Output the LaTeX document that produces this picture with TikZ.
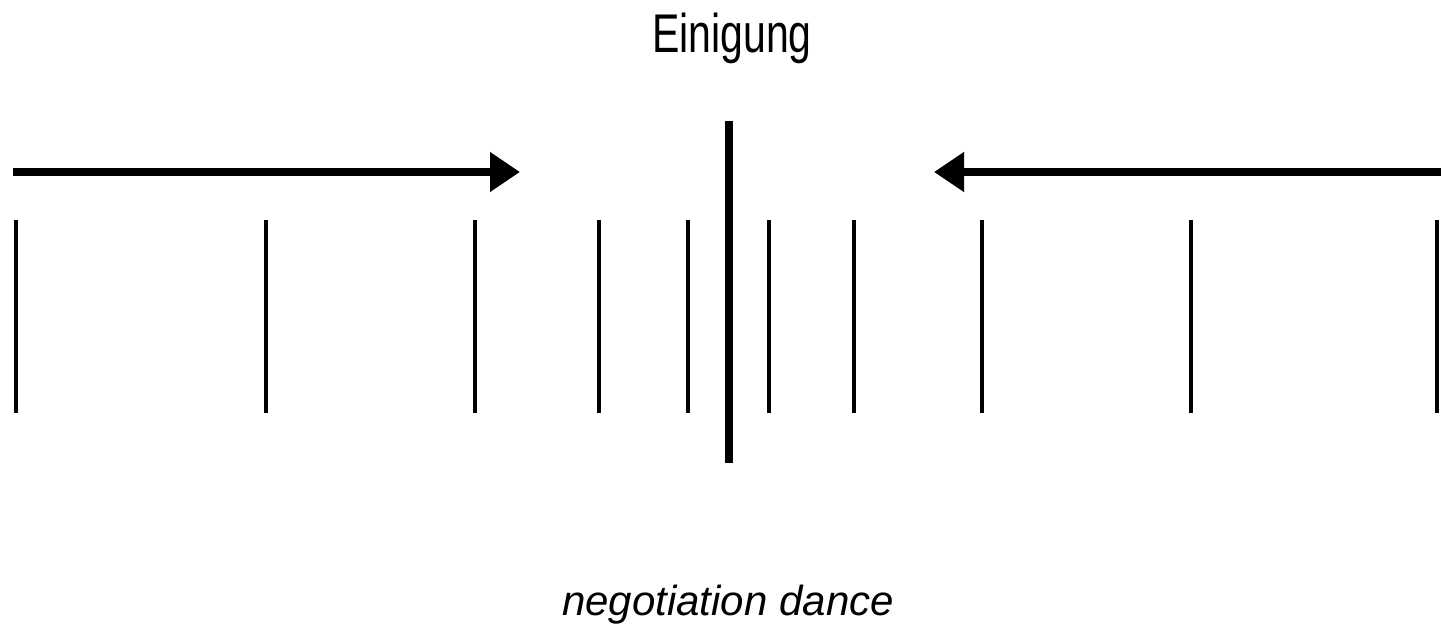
\documentclass[tikz,border=0pt]{standalone}
\usepackage{fontspec}
\setmainfont{Liberation Sans}
\usetikzlibrary{arrows.meta}
\begin{document}
\begin{tikzpicture}[x=1pt,y=-1pt,
  tick/.style={line width=3.5pt},
  center/.style={line width=8pt},
  bigarrow/.style={line width=8pt,-{Triangle[length=30pt,width=38pt]}},
  lbl/.style={inner sep=0pt,anchor=base}]
\useasboundingbox[fill=white] (0,0) rectangle (1441,629);
% labels
\node[lbl] (top) at (732,52) {\scalebox{1}[1.33]{\fontsize{41pt}{41pt}\selectfont Einigung}};
\node[lbl] (bot) at (728,615) {\fontsize{42pt}{42pt}\selectfont\itshape negotiation dance};
% arrows
\coordinate (la) at (13,172);
\coordinate (lb) at (520,172);
\coordinate (ra) at (1441,172);
\coordinate (rb) at (934,172);
\draw[bigarrow] (la) -- (lb);
\draw[bigarrow] (ra) -- (rb);
% central line
\coordinate (c1) at (729,121);
\coordinate (c2) at (729,463);
\draw[center] (c1) -- (c2);
% ticks
\foreach \x [count=\i] in {16,266,475,599,688,769,854,982,1191,1437}{
  \coordinate (t\i a) at (\x,220);
  \coordinate (t\i b) at (\x,413);
  \draw[tick] (t\i a) -- (t\i b);
}
\end{tikzpicture}
\end{document}
